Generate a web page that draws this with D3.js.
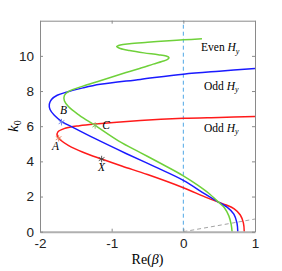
<!DOCTYPE html>
<html>
<head>
<meta charset="utf-8">
<script src="https://cdn.jsdelivr.net/npm/d3@7"></script>
<style>
  body { margin: 0; background: #fff; }
  svg text { font-family: "Liberation Sans", Arial, sans-serif; }
</style>
</head>
<body>
<svg id="canvas" width="282" height="271"></svg>
<script>
// curves traced as [Re(beta), k0] pairs, bottom end first
let greenPts = [[0.68,0],[0.668,0.4],[0.635,0.9],[0.575,1.35],[0.49,1.68],[0.35,2.2],[0.2,2.65],[0,3.18],
  [-0.3,3.85],[-0.6,4.5],[-0.9,5.15],[-1.23,6.04],[-1.45,6.62],[-1.6,7.1],[-1.66,7.45],[-1.66,7.75],[-1.6,7.98],
  [-1.4,8.28],[-1.16,8.58],[-0.8,9.05],[-0.58,9.32],[-0.42,9.53],[-0.3,9.68],[-0.22,9.8],[-0.2,9.9],
  [-0.24,9.99],[-0.35,10.07],[-0.55,10.17],[-0.75,10.3],[-0.88,10.42],[-0.93,10.53],[-0.88,10.62],
  [-0.75,10.69],[-0.5,10.77],[-0.2,10.86],[0,10.91],[0.26,10.97]]
let bluePts = [[0.76,0],[0.748,0.5],[0.705,1.0],[0.61,1.4],[0.49,1.68],[0.3,2.15],[0,2.92],[-0.4,3.7],
  [-0.8,4.45],[-1.23,5.29],[-1.5,5.85],[-1.7,6.28],[-1.8,6.62],[-1.86,6.95],[-1.87,7.25],[-1.84,7.52],
  [-1.76,7.76],[-1.62,7.95],[-1.4,8.18],[-1.16,8.38],[-0.6,8.66],[0,8.96],[0.5,9.13],[1,9.28]]
let redPts = [[0.85,0],[0.838,0.5],[0.795,0.95],[0.71,1.3],[0.6,1.52],[0.49,1.68],[0.3,1.98],[0,2.5],
  [-0.5,3.25],[-0.85,3.72],[-1.14,4.13],[-1.4,4.52],[-1.6,4.9],[-1.71,5.2],[-1.76,5.45],[-1.75,5.68],
  [-1.65,5.88],[-1.45,6.03],[-1.23,6.13],[-0.6,6.33],[0,6.45],[0.5,6.5],[1,6.55]]
let lightLine = [[0,0],[1,0.72]]

let markNames = ["A","B","C","X"]
let markX = [-1.74,-1.70,-1.23,-1.14]
let markY = [5.32,6.23,6.04,4.13]

let curveNames = ["Even ", "Odd ", "Odd "]
let curveLabelY = [10.5, 8.3, 5.9]

let xTicks = [-2,-1,0,1]
let yTicks = [0,2,4,6,8,10]

let canvas = d3.select("#canvas")
let mLeft = 40, mRight = 255, mTop = 20.7, mBottom = 231.7

let x = d3.scaleLinear().domain([-2,1]).range([mLeft,mRight])
let y = d3.scaleLinear().domain([0,12]).range([mBottom,mTop])

let line = d3.line()
  .x(d => x(d[0]))
  .y(d => y(d[1]))
  .curve(d3.curveCatmullRom.alpha(0.5))

// reference lines
canvas.append("line")
  .attr("x1", x(0)).attr("x2", x(0))
  .attr("y1", y(0)).attr("y2", y(12))
  .attr("stroke", "#4fa8e6").attr("stroke-width", 1)
  .attr("stroke-dasharray", "4,3")

canvas.append("path")
  .attr("d", d3.line().x(d => x(d[0])).y(d => y(d[1]))(lightLine))
  .attr("fill", "none")
  .attr("stroke", "#999").attr("stroke-width", 0.9)
  .attr("stroke-dasharray", "4,3")

let curves = [[redPts,"#ff1a1a"],[bluePts,"#1a1aff"],[greenPts,"#6fd13a"]]
canvas.selectAll("path.curve")
  .data(curves)
  .enter()
  .append("path")
  .attr("class","curve")
  .attr("d", d => line(d[0]))
  .attr("fill","none")
  .attr("stroke", d => d[1])
  .attr("stroke-width", 1.5)

// axes box
let axisColor = "#8a8a8a"
let gx = canvas.append("g").attr("transform", `translate(0,${mBottom})`)
  .call(d3.axisBottom(x).tickValues(xTicks).tickSizeInner(-3).tickSizeOuter(0).tickPadding(7))
let gxt = canvas.append("g").attr("transform", `translate(0,${mTop})`)
  .call(d3.axisTop(x).tickValues(xTicks).tickSizeInner(-3).tickSizeOuter(0).tickFormat(""))
let gy = canvas.append("g").attr("transform", `translate(${mLeft},0)`)
  .call(d3.axisLeft(y).tickValues(yTicks).tickSizeInner(-3).tickSizeOuter(0).tickPadding(6))
let gyr = canvas.append("g").attr("transform", `translate(${mRight},0)`)
  .call(d3.axisRight(y).tickValues(yTicks).tickSizeInner(-3).tickSizeOuter(0).tickFormat(""))

for (let g of [gx,gxt,gy,gyr]) {
  g.select(".domain").attr("stroke", axisColor)
  g.selectAll(".tick line").attr("stroke", axisColor)
  g.selectAll(".tick text").attr("fill", "#222").style("font-size","13.5px")
    .style("font-family","'Liberation Sans', Arial, sans-serif")
}
gx.select(".domain").attr("stroke", "#b0b0b0").attr("stroke-width", 2)
gx.selectAll(".tick text").text(d => d < 0 ? "-" + Math.abs(d) : d)

// star markers
let star = d3.symbol().type(d3.symbolAsterisk).size(30)
let markColors = ["#e8825e","#6b7fe8","#86c46a","#444"]
canvas.selectAll("path.mark")
  .data(markNames)
  .enter()
  .append("path")
  .attr("class","mark")
  .attr("transform", (d,i) => `translate(${x(markX[i])},${y(markY[i])})`)
  .attr("d", star)
  .attr("fill","none")
  .attr("stroke", (d,i) => markColors[i])
  .attr("stroke-width", 0.9)

let labelOff = [[-3,12],[2,-8],[11,4],[0,12]]
canvas.selectAll("text.mk")
  .data(markNames)
  .enter()
  .append("text")
  .attr("class","mk")
  .attr("x", (d,i) => x(markX[i]) + labelOff[i][0])
  .attr("y", (d,i) => y(markY[i]) + labelOff[i][1])
  .attr("text-anchor","middle")
  .style("font-family","'Liberation Serif', 'Times New Roman', serif")
  .style("font-style","italic")
  .style("font-size","11.5px")
  .text(d => d)

// curve labels
let cl = canvas.selectAll("text.cl")
  .data(curveNames)
  .enter()
  .append("text")
  .attr("class","cl")
  .attr("x", (d,i) => i == 0 ? 201 : 204)
  .attr("y", (d,i) => y(curveLabelY[i]) + 4)
  .style("font-family","'Liberation Serif', 'Times New Roman', serif")
  .style("font-size","11.5px")
cl.append("tspan").text(d => d)
cl.append("tspan").style("font-style","italic").text("H")
cl.append("tspan").style("font-style","italic").style("font-size","8px").attr("dy", 2.5).text("y")

// axis titles
let xl = canvas.append("text")
  .attr("x", (mLeft+mRight)/2).attr("y", 264)
  .attr("text-anchor","middle")
  .style("font-family","'Liberation Serif', 'Times New Roman', serif")
  .style("font-size","14px")
xl.append("tspan").text("Re(")
xl.append("tspan").style("font-style","italic").text("β")
xl.append("tspan").text(")")

let yl = canvas.append("text")
  .attr("transform", `translate(18,${(mTop+mBottom)/2}) rotate(-90)`)
  .attr("text-anchor","middle")
  .style("font-family","'Liberation Serif', 'Times New Roman', serif")
  .style("font-size","15px")
yl.append("tspan").style("font-style","italic").text("k")
yl.append("tspan").style("font-size","10px").attr("dy", 3).text("0")
</script>
</body>
</html>
